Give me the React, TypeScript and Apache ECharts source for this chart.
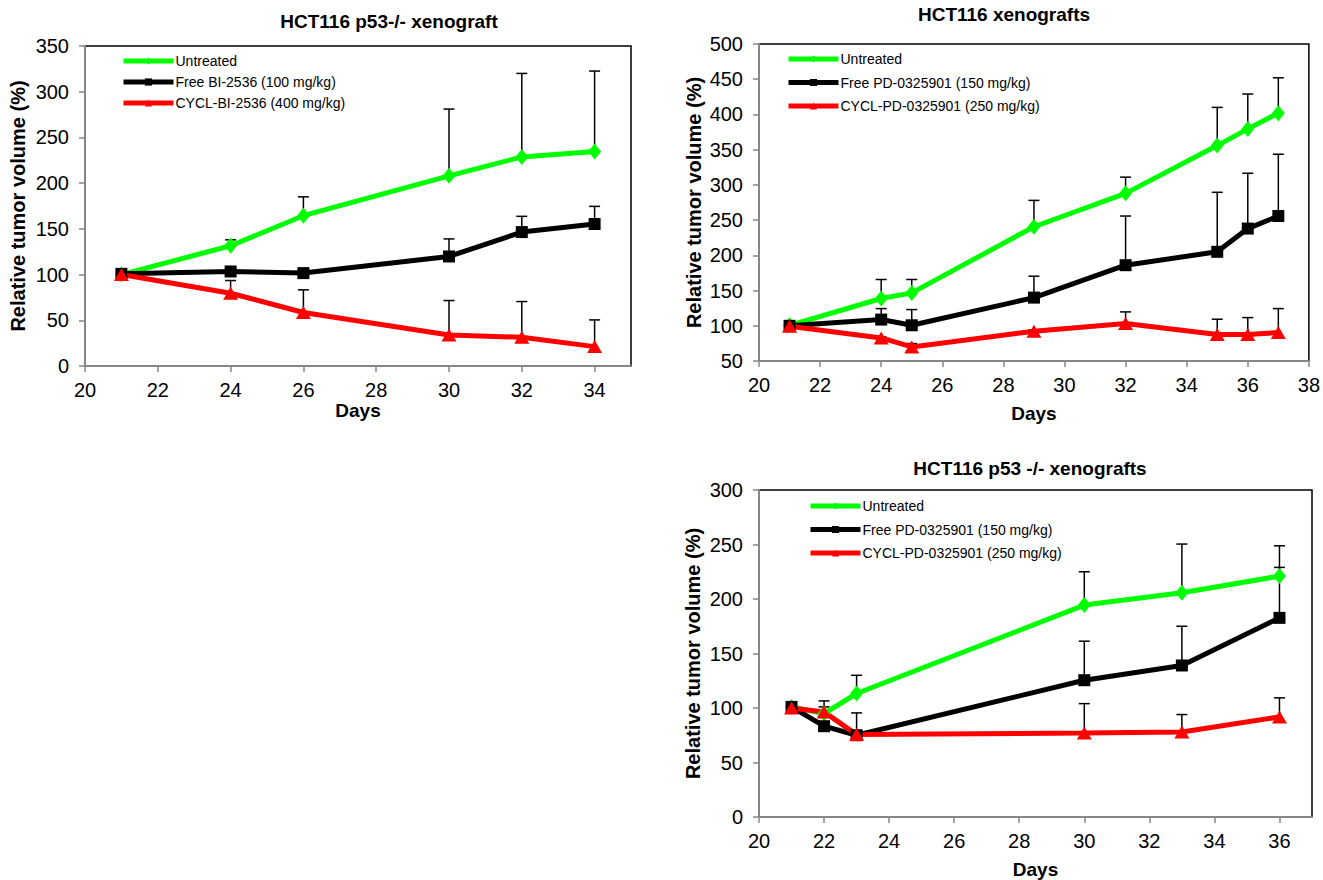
import React, { useEffect, useRef } from "react";
import * as echarts from "echarts";

// ---------- Chart 1: HCT116 p53-/- xenograft ----------
const days1 = [21, 24, 26, 30, 32, 34];
const untreated1 = [100, 131.5, 164.4, 208, 228.7, 234.6];
const untreated1Top = [100, 138, 185, 281, 320, 322.6];
const freeBI1 = [100.8, 103.4, 101.6, 119.8, 146.5, 155.3];
const freeBI1Top = [102, 107, 103, 139, 163.7, 174.6];
const cyclBI1 = [100, 79.6, 58.5, 34, 31.4, 21.2];
const cyclBI1Top = [100, 93.5, 83.3, 71.6, 70.5, 50.4];

// ---------- Chart 2: HCT116 xenografts ----------
const days2 = [21, 24, 25, 29, 32, 35, 36, 37];
const untreated2 = [100.7, 138.7, 146.7, 240.6, 288, 355.8, 379.5, 401.8];
const untreated2Top = [100.7, 165.7, 165.7, 278, 311, 410, 429, 452];
const freePD2 = [100, 108.8, 100.7, 140, 186, 205, 238, 255.8];
const freePD2Top = [102, 124.4, 123, 170.4, 255.8, 289.5, 316.5, 343.5];
const cyclPD2 = [99.3, 82.7, 70, 92.2, 103.1, 87.5, 87.5, 90.5];
const cyclPD2Top = [99.3, 84, 74.7, 94, 119.7, 109.3, 111.6, 124.4];

// ---------- Chart 3: HCT116 p53 -/- xenografts ----------
const days3 = [21, 22, 23, 30, 33, 36];
const untreated3 = [101, 94.9, 113.3, 194.4, 205.7, 221];
const untreated3Top = [101, 96, 130, 225, 250.4, 248.8];
const freePD3 = [101, 83.3, 75, 125.5, 139, 182.7];
const freePD3Top = [102, 106.5, 95.5, 161.3, 175, 229];
const cyclPD3 = [100, 96.4, 75.6, 77.1, 78, 91.8];
const cyclPD3Top = [100, 101, 76, 104, 94, 109.3];

const titles = ["HCT116 p53-/- xenograft", "HCT116 xenografts", "HCT116 p53 -/- xenografts"];
const legend1 = ["Untreated", "Free BI-2536 (100 mg/kg)", "CYCL-BI-2536 (400 mg/kg)"];
const legend2 = ["Untreated", "Free PD-0325901 (150 mg/kg)", "CYCL-PD-0325901 (250 mg/kg)"];
const yName = "Relative tumor volume (%)";
const xName = "Days";

const FONT = "'Liberation Sans', Arial, sans-serif";
const GREEN = "#00ff00";
const BLACK = "#000000";
const RED = "#ff0000";
const AXIS_GRAY = "#868686";

const pairs = (xs: number[], ys: number[]) => xs.map((x, i) => [x, ys[i]]);
const errPairs = (xs: number[], ys: number[], tops: number[]) =>
  xs.map((x, i) => [x, ys[i], tops[i]]);

function errorSeries(idx: number, data: number[][]) {
  return {
    type: "custom",
    xAxisIndex: idx,
    yAxisIndex: idx,
    z: 1,
    silent: true,
    encode: { x: 0, y: 1 },
    data,
    renderItem: (params: any, api: any) => {
      const x = api.value(0);
      const y = api.value(1);
      const t = api.value(2);
      if (t - y < 0.5) return { type: "group", children: [] };
      const p0 = api.coord([x, y]);
      const p1 = api.coord([x, t]);
      return {
        type: "group",
        children: [
          {
            type: "line",
            shape: { x1: p0[0], y1: p0[1], x2: p1[0], y2: p1[1] },
            style: { stroke: "#000", lineWidth: 1.5 },
          },
          {
            type: "line",
            shape: { x1: p1[0] - 5.5, y1: p1[1], x2: p1[0] + 5.5, y2: p1[1] },
            style: { stroke: "#000", lineWidth: 1.5 },
          },
        ],
      };
    },
  };
}

function lineSeries(idx: number, name: string, data: number[][], color: string, symbol: string, size: any) {
  return {
    type: "line",
    name,
    xAxisIndex: idx,
    yAxisIndex: idx,
    z: 2,
    data,
    symbol,
    symbolSize: size,
    showAllSymbol: true,
    lineStyle: { color, width: 5 },
    itemStyle: { color, borderWidth: 0 },
  };
}

const tickLabel = { fontFamily: FONT, fontSize: 20, color: "#000" };

function xAxis(idx: number, min: number, max: number, gap: number) {
  return {
    type: "value",
    gridIndex: idx,
    min,
    max,
    interval: 2,
    name: xName,
    nameLocation: "middle",
    nameGap: gap,
    nameTextStyle: { fontFamily: FONT, fontSize: 19, fontWeight: "bold", color: "#000" },
    axisLine: { show: true, lineStyle: { color: AXIS_GRAY, width: 2 } },
    axisTick: { show: true, length: 6, lineStyle: { color: AXIS_GRAY, width: 1.5 } },
    axisLabel: { ...tickLabel, margin: 14, showMaxLabel: max % 2 === 0 },
    splitLine: { show: false },
  };
}

function yAxis(idx: number, min: number, max: number, gap: number) {
  return {
    type: "value",
    gridIndex: idx,
    min,
    max,
    interval: 50,
    name: yName,
    nameLocation: "middle",
    nameGap: gap,
    nameRotate: 90,
    nameTextStyle: { fontFamily: FONT, fontSize: 20, fontWeight: "bold", color: "#000" },
    axisLine: { show: true, lineStyle: { color: AXIS_GRAY, width: 2 } },
    axisTick: { show: true, length: 6, lineStyle: { color: AXIS_GRAY, width: 1.5 } },
    axisLabel: { ...tickLabel, margin: 16 },
    splitLine: { show: false },
  };
}

function legend(names: string[], left: number, top: number, gap: number) {
  return {
    data: names,
    orient: "vertical",
    left,
    top,
    itemWidth: 50,
    itemHeight: 9,
    itemGap: gap,
    selectedMode: false,
    lineStyle: { width: 5 },
    textStyle: { fontFamily: FONT, fontSize: 14, color: "#000", padding: [0, 0, 0, -3] },
  };
}

export default function App() {
  const ref = useRef<HTMLDivElement>(null);
  useEffect(() => {
    if (!ref.current) return;
    const chart = echarts.init(ref.current, undefined, { renderer: "svg" });
    const titleStyle = { fontFamily: FONT, fontSize: 19, fontWeight: "bold", color: "#000" };
    const option: any = {
      animation: false,
      backgroundColor: "#fff",
      title: [
        { text: titles[0], left: 384, top: 7, textAlign: "center", textStyle: titleStyle },
        { text: titles[1], left: 999, top: 0, textAlign: "center", textStyle: titleStyle },
        { text: titles[2], left: 1025, top: 454, textAlign: "center", textStyle: titleStyle },
      ],
      legend: [
        legend(legend1, 116, 49, 7),
        legend(legend2, 781, 47, 9.5),
        legend(legend2, 803, 494, 9.5),
      ],
      grid: [
        { left: 85, top: 46, width: 546, height: 320, show: true, borderColor: "#000", borderWidth: 1.5, backgroundColor: "transparent" },
        { left: 759, top: 44, width: 551, height: 317, show: true, borderColor: "#000", borderWidth: 1.5, backgroundColor: "transparent" },
        { left: 759, top: 490, width: 553, height: 327, show: true, borderColor: "#000", borderWidth: 1.5, backgroundColor: "transparent" },
      ],
      xAxis: [xAxis(0, 20, 35, 31.5), xAxis(1, 20, 38, 42.5), xAxis(2, 20, 37, 42.5)],
      yAxis: [yAxis(0, 0, 350, 57), yAxis(1, 50, 500, 55), yAxis(2, 0, 300, 56)],
      series: [
        errorSeries(0, errPairs(days1, untreated1, untreated1Top)),
        errorSeries(0, errPairs(days1, freeBI1, freeBI1Top)),
        errorSeries(0, errPairs(days1, cyclBI1, cyclBI1Top)),
        lineSeries(0, legend1[0], pairs(days1, untreated1), GREEN, "diamond", [13, 16]),
        lineSeries(0, legend1[1], pairs(days1, freeBI1), BLACK, "rect", 12),
        lineSeries(0, legend1[2], pairs(days1, cyclBI1), RED, "triangle", [15, 13]),

        errorSeries(1, errPairs(days2, untreated2, untreated2Top)),
        errorSeries(1, errPairs(days2, freePD2, freePD2Top)),
        errorSeries(1, errPairs(days2, cyclPD2, cyclPD2Top)),
        lineSeries(1, legend2[0], pairs(days2, untreated2), GREEN, "diamond", [13, 16]),
        lineSeries(1, legend2[1], pairs(days2, freePD2), BLACK, "rect", 12),
        lineSeries(1, legend2[2], pairs(days2, cyclPD2), RED, "triangle", [15, 13]),

        errorSeries(2, errPairs(days3, untreated3, untreated3Top)),
        errorSeries(2, errPairs(days3, freePD3, freePD3Top)),
        errorSeries(2, errPairs(days3, cyclPD3, cyclPD3Top)),
        lineSeries(2, legend2[0], pairs(days3, untreated3), GREEN, "diamond", [13, 16]),
        lineSeries(2, legend2[1], pairs(days3, freePD3), BLACK, "rect", 12),
        lineSeries(2, legend2[2], pairs(days3, cyclPD3), RED, "triangle", [15, 13]),
      ],
    };
    chart.setOption(option);
    return () => chart.dispose();
  }, []);
  return (
    <div
      ref={ref}
      style={{ position: "absolute", left: 0, top: 0, width: 1323, height: 880, background: "#fff" }}
    />
  );
}
